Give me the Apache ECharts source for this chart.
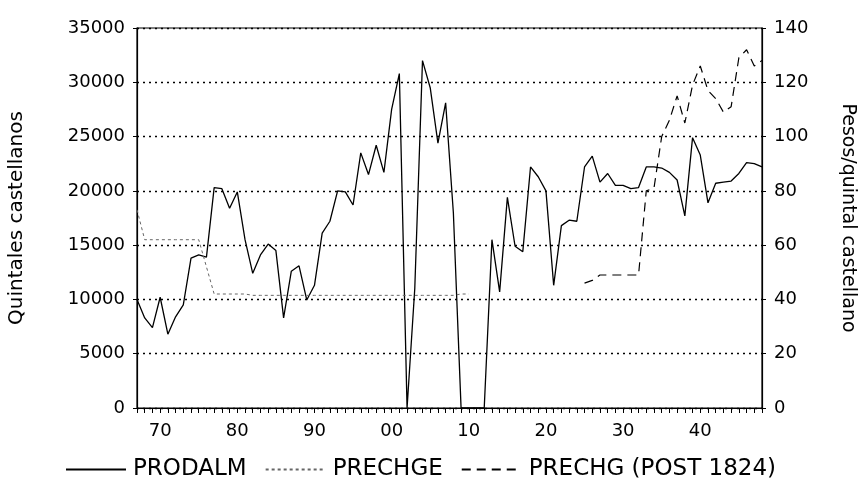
<!DOCTYPE html>
<html>
<head>
<meta charset="utf-8">
<script src="https://cdn.jsdelivr.net/npm/echarts@6/dist/echarts.min.js"></script>
<style>
  html, body { margin: 0; padding: 0; background: #fff; }
  #chart { width: 860px; height: 489px; }
</style>
</head>
<body>
<div id="chart"></div>
<script>
// años 1767-1848
const firstYear = 1767
const lastYear = 1848
const years = []
for (let y = firstYear; y <= lastYear; y++) years.push(String(y))

// producción de almagre (quintales castellanos), 1767-1848
const prodalm = [
  10000, 8300, 7400, 10200, 6800, 8400, 9500, 13800, 14100, 13900,
  20300, 20200, 18400, 19900, 15500, 12400, 14100, 15100, 14500, 8300,
  12600, 13100, 9950, 11300, 16100, 17200, 20000, 19900, 18700, 23500,
  21500, 24200, 21700, 27500, 30800, 0, 11000, 32000, 29500, 24400,
  28100, 18000, 0, 0, 0, 0, 15500, 10700, 19400, 14900,
  14400, 22200, 21300, 20000, 11300, 16800, 17300, 17200, 22200, 23200,
  20800, 21600, 20500, 20500, 20200, 20300, 22200, 22200, 22100, 21700,
  21000, 17700, 24900, 23300, 18900, 20700, 20800, 20900, 21600, 22600,
  22500, 22200
]

// precio (pesos/quintal), 1767-1810
const prechgeStart = 1767
const prechge = [
  73, 62, 62, 62, 62, 62, 62, 62, 62, 52,
  42, 42, 42, 42, 42, 41.5, 41.5, 41.5, 41.5, 41.5,
  41.5, 41.5, 41.5, 41.5, 41.5, 41.5, 41.5, 41.5, 41.5, 41.5,
  41.5, 41.5, 41.5, 41.5, 41.5, 41.5, 41.5, 41.5, 41.5, 41.5,
  41.5, 41.5, 42, 42
]

// precio después de 1824, 1825-1848
const prechgStart = 1825
const prechg = [
  46, 47, 49, 49, 49, 49, 49, 49, 80, 81,
  100, 106, 115, 105, 119, 126, 117, 114, 109, 111,
  129, 132, 126, 128
]

const leftTicks = [0, 35000, 5000]
const rightTicks = [0, 140, 20]

const pad = (arr, start) => years.map(y => {
  const i = Number(y) - start
  return i >= 0 && i < arr.length ? arr[i] : null
})

const font = 'DejaVu Sans'
const chart = echarts.init(document.getElementById('chart'))

const option = {
  animation: false,
  textStyle: { fontFamily: font, color: '#000' },
  grid: {
    left: 137, right: 98, top: 28, bottom: 81,
    containLabel: false,
    outerBoundsMode: 'none',
    show: true, borderColor: '#000', borderWidth: 1.2
  },
  legend: {
    bottom: 3,
    left: 60,
    itemWidth: 60,
    itemHeight: 10,
    itemGap: 18,
    itemStyle: { opacity: 0 },
    textStyle: { fontSize: 23, fontFamily: font, color: '#000', padding: [0, 0, 0, 2] },
    data: ['PRODALM', 'PRECHGE', 'PRECHG (POST 1824)']
  },
  xAxis: [{
    type: 'category',
    data: years,
    boundaryGap: false,
    axisLine: { lineStyle: { color: '#000', width: 1.2 } },
    axisTick: { interval: 0, length: 5, lineStyle: { color: '#000' } },
    axisLabel: {
      interval: (i, v) => Number(v) % 10 === 0,
      formatter: v => v.slice(2),
      fontSize: 18, color: '#000', margin: 14
    },
    splitLine: { show: false }
  }],
  yAxis: [{
    type: 'value',
    min: leftTicks[0], max: leftTicks[1], interval: leftTicks[2],
    name: 'Quintales castellanos',
    nameLocation: 'middle',
    nameRotate: 90,
    nameGap: 110,
    nameTextStyle: { fontSize: 20, color: '#000' },
    axisLine: { show: true, lineStyle: { color: '#000', width: 1.2 } },
    axisTick: { show: true, length: 4, lineStyle: { color: '#000' } },
    axisLabel: { fontSize: 18, color: '#000', margin: 12, formatter: v => String(v) },
    splitLine: { lineStyle: { color: '#000', type: [2, 4], width: 1.4 } }
  }, {
    type: 'value',
    position: 'right',
    min: rightTicks[0], max: rightTicks[1], interval: rightTicks[2],
    name: 'Pesos/quintal castellano',
    nameLocation: 'middle',
    nameRotate: -90,
    nameGap: 76,
    nameTextStyle: { fontSize: 19, color: '#000' },
    axisLine: { show: true, lineStyle: { color: '#000', width: 1.2 } },
    axisTick: { show: true, length: 4, lineStyle: { color: '#000' } },
    axisLabel: { fontSize: 18, color: '#000', margin: 12 },
    splitLine: { show: false }
  }],
  series: [
    {
      name: 'PRODALM',
      type: 'line',
      data: prodalm,
      symbol: 'none',
      lineStyle: { color: '#000', width: 1.3 },
      itemStyle: { color: '#000' }
    },
    {
      name: 'PRECHGE',
      type: 'line',
      yAxisIndex: 1,
      data: pad(prechge, prechgeStart),
      symbol: 'none',
      lineStyle: { color: '#666', width: 1, type: [3, 3] },
      itemStyle: { color: '#666' }
    },
    {
      name: 'PRECHG (POST 1824)',
      type: 'line',
      yAxisIndex: 1,
      data: pad(prechg, prechgStart),
      symbol: 'none',
      lineStyle: { color: '#000', width: 1.2, type: [9, 6] },
      itemStyle: { color: '#000' }
    }
  ]
}

chart.setOption(option)
</script>
</body>
</html>
